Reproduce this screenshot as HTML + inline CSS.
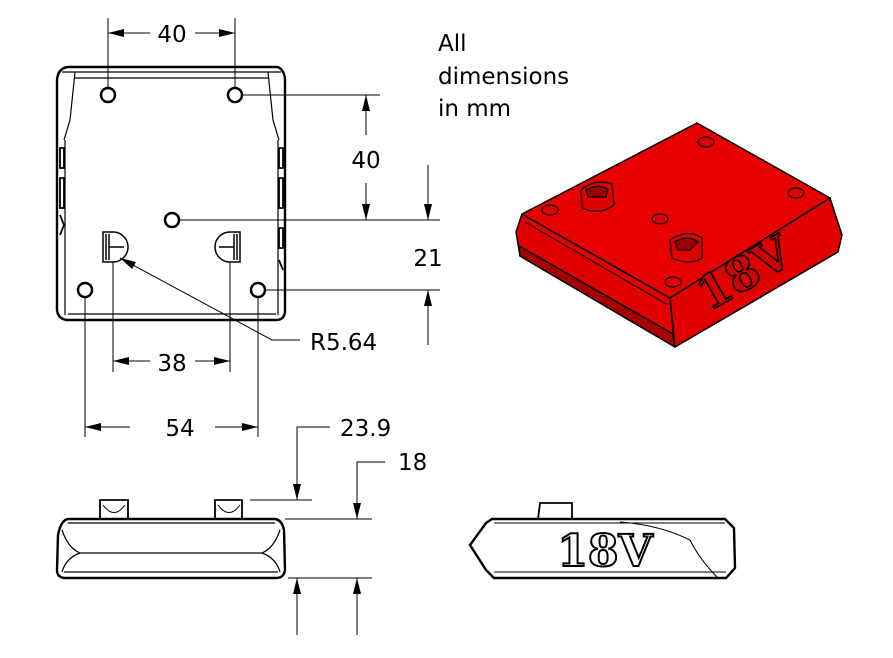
<!DOCTYPE html>
<html><head><meta charset="utf-8"><style>
html,body{margin:0;padding:0;background:#fff}
svg{display:block}
.t{font-family:"DejaVu Sans","Liberation Sans",sans-serif;fill:#000}
.s{font-family:"DejaVu Serif","Liberation Serif",serif;font-weight:bold}
</style></head><body>
<svg width="893" height="658" viewBox="0 0 893 658" xmlns="http://www.w3.org/2000/svg">
<defs>
<marker id="a" viewBox="0 0 10 10" refX="10" refY="5" markerWidth="16" markerHeight="8" markerUnits="userSpaceOnUse" orient="auto-start-reverse" preserveAspectRatio="none"><path d="M0,0 L10,5 L0,10 z" fill="#000"/></marker>
</defs>
<g fill="none" stroke="#000" stroke-width="1.8">
<path d="M68,67 L277,67 Q283,68 285,78 L285,312 Q284,320 276,320 L67,320 Q58,319 57,310 L57,80 Q58,68 68,67 z" stroke-width="2.4"/>
<path d="M65,140 L65,315 M278,140 L278,315 M68,314 L276,314" stroke-width="1.2"/>
<path d="M62,72 L75,72 L70,120 L64,140 M281,72 L268,72 L273,120 L279,140 M75,72 L268,72 M75,78 L268,78" stroke-width="1.2"/>
<path d="M60,148 h4 v20 h-4 z M60,178 h4 v30 h-4z M279,148 h4 v20 h-4z M279,178 h4 v30 h-4z M279,228 h4 v20 h-4z M60,215 l4,10 l-4,10 M279,260 l4,10"/>
<circle cx="108" cy="95" r="7" stroke-width="2.5"/><circle cx="235" cy="95" r="7" stroke-width="2.5"/>
<circle cx="172" cy="220" r="7" stroke-width="2.5"/><circle cx="85" cy="290" r="7" stroke-width="2.5"/><circle cx="258" cy="290" r="7" stroke-width="2.5"/>
<path d="M103,232 L113,232 A13,13 0 0 1 113,262 L103,262 z M106,234 V260 M109,234 V260 M109,247 H124" stroke-width="1.5"/>
<path d="M240,232 L230,232 A13,13 0 0 0 230,262 L240,262 z M237,234 V260 M234,234 V260 M234,247 H219" stroke-width="1.5"/>
</g>
<g stroke="#000" stroke-width="1" fill="none">
<path d="M108,18 V88 M235,18 V88"/>
<path d="M150,33 H108" marker-end="url(#a)"/><path d="M195,33 H235" marker-end="url(#a)"/>
<path d="M242,95 H380 M179,220 H440 M265,290 H440"/>
<path d="M366,135 V95" marker-end="url(#a)"/><path d="M366,183 V220" marker-end="url(#a)"/>
<path d="M428,165 V220" marker-end="url(#a)"/><path d="M428,345 V290" marker-end="url(#a)"/>
<path d="M300,340 H272 L120,258" marker-end="url(#a)"/>
<path d="M113,262 V372 M230,262 V372"/>
<path d="M150,361 H113" marker-end="url(#a)"/><path d="M195,361 H230" marker-end="url(#a)"/>
<path d="M85,297 V437 M258,297 V437"/>
<path d="M130,427 H85" marker-end="url(#a)"/><path d="M215,427 H258" marker-end="url(#a)"/>
<path d="M250,500 H312 M285,519 H372 M288,578 H372"/>
<path d="M330,427 H297 V500" marker-end="url(#a)"/>
<path d="M385,462 H357 V519" marker-end="url(#a)"/>
<path d="M297,635 V578" marker-end="url(#a)"/><path d="M357,635 V578" marker-end="url(#a)"/>
</g>
<g fill="none" stroke="#000" stroke-width="1.8">
<path d="M100,519 V500 H128 V519 M215,519 V500 H242 V519"/>
<path d="M103,505 Q114,520 125,505 M218,505 Q229,520 240,505" stroke-width="1"/>
<path d="M68,519 H275 Q282,520 284,530 L285,570 Q284,578 276,578 L64,578 Q57,577 57,570 L58,535 Q61,520 68,519 z" stroke-width="2.4"/>
<path d="M68,523 H275 M80,553 H262 M64,572 H278 M62,530 Q68,548 80,553 Q66,558 62,572 M280,530 Q274,548 262,553 Q276,558 280,572" stroke-width="1.2"/>
<path d="M538,519 L540,503 H572 V519" />
<path d="M492,519 H725 L734,528 L735,568 L726,578 H494 L486,570 L470,545 L486,523 z" stroke-width="2.4"/>
<path d="M494,523 H725 M494,572 H726 M620,522 Q660,525 690,540 Q700,560 718,578" stroke-width="1"/>
</g>
<text x="605" y="566" font-size="44" text-anchor="middle" class="s" fill="#fff" stroke="#000" stroke-width="2">18V</text>
<g stroke="#000" stroke-width="1.5" stroke-linejoin="round">
<path d="M522,214 L670,298 L675,347 L520,256 L516,232 z" fill="#e00000"/>
<path d="M519,246 L673,334 L675,347 L520,256 z" fill="#a80000"/>
<path d="M522,214 L697,123 L830,198 L670,298 z" fill="#e80000"/>
<path d="M670,298 L830,198 L842,235 L838,252 L675,347 z" fill="#e00000"/>
<path d="M525,222 L668,305" fill="none" stroke-width="1"/>
</g>
<g fill="#e00000" stroke="#000" stroke-width="1.2">
<ellipse cx="706" cy="142" rx="8" ry="5"/><ellipse cx="796" cy="193" rx="8" ry="5"/>
<ellipse cx="550" cy="210" rx="8" ry="5"/><ellipse cx="660" cy="219" rx="8" ry="5"/>
<ellipse cx="673" cy="282" rx="8" ry="5"/>
<path d="M581,190 Q595,178 612,184 L614,205 Q600,216 582,208 z"/>
<path d="M586,190 Q597,183 608,189 L606,197 L588,197 z" fill="#900"/>
<path d="M670,240 Q688,228 702,238 L702,258 Q690,266 672,258 z"/>
<path d="M675,242 Q688,234 698,242 L690,250 L678,250 z" fill="#900"/>
</g>
<text x="752" y="287" font-size="46" text-anchor="middle" class="s" fill="#d00000" stroke="#000" stroke-width="1.6" transform="rotate(-30 752 287)">18V</text>
<g font-size="23" class="t">
<text class="t" x="172" y="42" text-anchor="middle">40</text>
<text class="t" x="366" y="168" text-anchor="middle">40</text>
<text class="t" x="428" y="266" text-anchor="middle">21</text>
<text class="t" x="310" y="350">R5.64</text>
<text class="t" x="172" y="371" text-anchor="middle">38</text>
<text class="t" x="180" y="436" text-anchor="middle">54</text>
<text class="t" x="340" y="436">23.9</text>
<text class="t" x="398" y="470">18</text>
<text class="t" x="438" y="51">All</text>
<text class="t" x="438" y="84">dimensions</text>
<text class="t" x="438" y="116">in mm</text>
</g>
</svg>
</body></html>
